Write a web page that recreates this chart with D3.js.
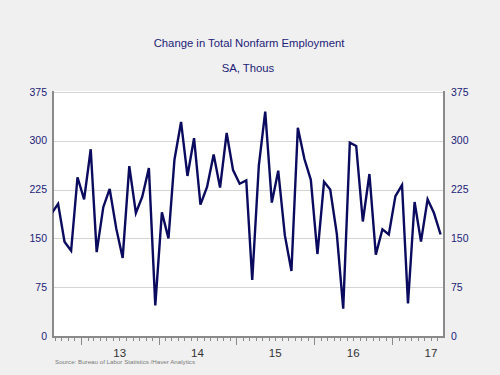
<!DOCTYPE html>
<html><head><meta charset="utf-8">
<script src="https://cdn.jsdelivr.net/npm/d3@7"></script>
<style>
html,body{margin:0;padding:0;background:#f0f0f0;}
svg{display:block;font-family:"Liberation Sans",Arial,sans-serif;}
</style></head>
<body>
<svg id="c" width="500" height="375"></svg>
<script>
// Monthly change in total nonfarm employment, Aug 2012 - Aug 2017 (thous, SA)
const startYear = 2012, startMonth = 7; // Aug 2012 (0-based month)
const values = [
  188, 203, 145, 131, 244,
  210, 287, 129, 198, 226, 165, 120, 261, 189, 214, 258, 47,
  190, 150, 271, 329, 246, 304, 202, 229, 279, 228, 312, 255,
  234, 239, 86, 262, 345, 205, 254, 155, 100, 320, 272, 240,
  126, 237, 225, 157, 42, 297, 292, 176, 249, 125, 164, 156,
  215, 232, 50, 206, 145, 210, 189, 156
];
const yTicks = [0, 75, 150, 225, 300, 375];
const yearLabels = ["13", "14", "15", "16", "17"];
const title = "Change in Total Nonfarm Employment";
const subtitle = "SA, Thous";
const source = "Source:  Bureau of Labor Statistics /Haver Analytics";

const data = values.map((v, i) => ({date: new Date(startYear, startMonth + i, 16), value: v}));

const svg = d3.select("#c");
const L = 53, R = 444, T = 91, B = 336;
const x = d3.scaleTime().domain([new Date(2012, 7, 23), new Date(2017, 8, 1)]).range([L, R]);
const y = d3.scaleLinear().domain([0, 375]).range([B, 92]);

// plot background
svg.append("rect").attr("x", L).attr("y", T).attr("width", R - L).attr("height", B + 1.5 - T).attr("fill", "#ffffff");

// gridlines
svg.append("g").selectAll("line").data(yTicks.filter(d => d > 0)).join("line")
  .attr("x1", L).attr("x2", R).attr("y1", d => Math.round(y(d)) + 0.5).attr("y2", d => Math.round(y(d)) + 0.5)
  .attr("stroke", "#d4d4d4").attr("stroke-width", 1);

// y axes labels
const yl = svg.append("g").attr("font-size", "10.5px").attr("fill", "#1c1c78");
yl.selectAll("text.l").data(yTicks).join("text").attr("class", "l")
  .attr("x", 47).attr("y", d => y(d)).attr("dy", "0.35em").attr("text-anchor", "end").text(d => d);
yl.selectAll("text.r").data(yTicks).join("text").attr("class", "r")
  .attr("x", 451).attr("y", d => y(d)).attr("dy", "0.35em").attr("text-anchor", "start").text(d => d);

// axis frame lines
svg.append("line").attr("x1", L).attr("x2", L).attr("y1", T).attr("y2", B + 2).attr("stroke", "#8a8a8a").attr("stroke-width", 2);
svg.append("line").attr("x1", R).attr("x2", R).attr("y1", T).attr("y2", B + 2).attr("stroke", "#8a8a8a").attr("stroke-width", 2);
svg.append("line").attr("x1", L).attr("x2", R).attr("y1", B + 1).attr("y2", B + 1).attr("stroke", "#8a8a8a").attr("stroke-width", 2);

// x ticks
const months = d3.timeMonth.range(new Date(2012, 8, 1), new Date(2017, 8, 1));
svg.append("g").selectAll("line").data(months).join("line")
  .attr("x1", d => Math.round(x(d)) + 0.5).attr("x2", d => Math.round(x(d)) + 0.5)
  .attr("y1", B + 2).attr("y2", d => d.getMonth() === 0 ? B + 9 : B + 5)
  .attr("stroke", "#8a8a8a").attr("stroke-width", 1);

// year labels
const years = yearLabels.map((s, i) => ({s, mid: new Date(2013 + i, 6, 2)}));
svg.append("g").selectAll("text").data(years).join("text")
  .attr("x", d => x(d.mid)).attr("y", 357).attr("text-anchor", "middle")
  .attr("font-size", "11.5px").attr("fill", "#333333").text(d => d.s);

// clip
svg.append("clipPath").attr("id", "clip").append("rect").attr("x", L).attr("y", T - 5).attr("width", R - L).attr("height", B - T + 10);

// line
const line = d3.line().x(d => x(d.date)).y(d => y(d.value));
svg.append("path").datum(data).attr("d", line).attr("clip-path", "url(#clip)")
  .attr("fill", "none").attr("stroke", "#0a0a5e").attr("stroke-width", 2.4).attr("stroke-linejoin", "miter");

// titles
svg.append("text").attr("x", 249).attr("y", 47).attr("text-anchor", "middle").attr("font-size", "11.3px").attr("fill", "#1c1c78").text(title);
svg.append("text").attr("x", 248).attr("y", 72).attr("text-anchor", "middle").attr("font-size", "11.3px").attr("fill", "#1c1c78").text(subtitle);

// source
svg.append("text").attr("x", 55).attr("y", 364).attr("font-size", "6.2px").attr("fill", "#7a7a7a").text(source);
</script>
</body></html>
